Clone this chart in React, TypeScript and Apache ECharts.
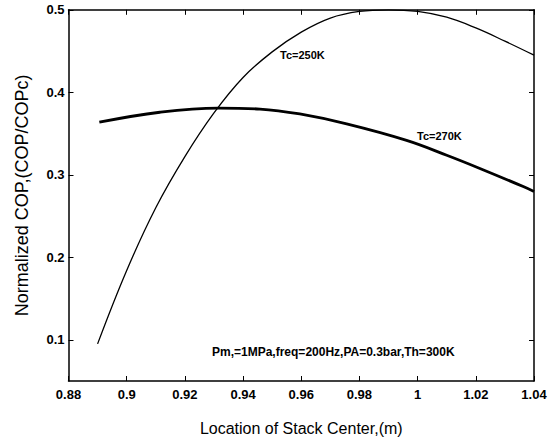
import React, { useEffect, useRef } from "react";
import * as echarts from "echarts";

// Location of stack center (m) and normalized COP
const tc250X = [0.89, 0.9, 0.91, 0.92, 0.93, 0.94, 0.95, 0.96, 0.97, 0.98, 0.99, 1.0, 1.01, 1.02, 1.03, 1.04];
const tc250Y = [0.095, 0.184, 0.26, 0.322, 0.375, 0.418, 0.449, 0.473, 0.49, 0.498, 0.5, 0.498, 0.491, 0.478, 0.462, 0.445];

const tc270X = [0.8906, 0.9114, 0.9315, 0.9458, 0.9595, 0.9756, 0.9962, 1.01, 1.0214, 1.0363, 1.04];
const tc270Y = [0.3637, 0.3758, 0.3809, 0.3797, 0.3737, 0.3617, 0.3417, 0.3237, 0.3077, 0.2857, 0.2797];

const yTickValues = [0.1, 0.2, 0.3, 0.4, 0.5];
const xMin = 0.88;
const xMax = 1.04;
const xInterval = 0.02;
const yMin = 0.05;
const yMax = 0.5;

const seriesNames = ["Tc=250K", "Tc=270K"];
const noteText = "Pm,=1MPa,freq=200Hz,PA=0.3bar,Th=300K";
const xTitle = "Location of Stack Center,(m)";
const yTitle = "Normalized COP,(COP/COPc)";

const zip = (xs: number[], ys: number[]) => xs.map((x, i) => [x, ys[i]]);

export default function App() {
  const ref = useRef<HTMLDivElement>(null);
  useEffect(() => {
    document.body.style.margin = "0";
    const chart = echarts.init(ref.current!, null, { renderer: "svg" });
    const tickFont = {
      fontFamily: "Liberation Sans, Arial, sans-serif",
      fontWeight: "bold" as const,
      fontSize: 13,
      color: "#000",
    };
    const axisLine = { show: true, lineStyle: { color: "#000", width: 1.5 } };
    chart.setOption({
      animation: false,
      backgroundColor: "#fff",
      grid: { left: 68.5, right: 22, top: 9.8, bottom: 54.3, containLabel: false },
      xAxis: [
        {
          type: "value",
          position: "bottom",
          min: xMin,
          max: xMax,
          interval: xInterval,
          axisLine,
          axisTick: { show: true, inside: true, length: 5, lineStyle: { color: "#000", width: 1 } },
          axisLabel: { ...tickFont, margin: 7, formatter: (v: number) => String(parseFloat(v.toFixed(2))) },
          splitLine: { show: false },
          name: xTitle,
          nameLocation: "middle",
          nameGap: 39,
          nameTextStyle: { fontFamily: "Liberation Sans, Arial, sans-serif", fontSize: 16, color: "#000" },
        },
        {
          type: "value",
          position: "top",
          min: xMin,
          max: xMax,
          interval: xInterval,
          axisLine,
          axisTick: { show: true, inside: true, length: 5, lineStyle: { color: "#000", width: 1 } },
          axisLabel: { show: false },
          splitLine: { show: false },
        },
      ],
      yAxis: [
        {
          type: "value",
          position: "left",
          min: yMin,
          max: yMax,
          axisLine,
          axisTick: { show: true, inside: true, length: 5, customValues: yTickValues, lineStyle: { color: "#000", width: 1 } },
          axisLabel: { ...tickFont, margin: 4, customValues: yTickValues, formatter: (v: number) => String(parseFloat(v.toFixed(2))) },
          splitLine: { show: false },
          name: yTitle,
          nameLocation: "middle",
          nameGap: 38,
          nameTextStyle: { fontFamily: "Liberation Sans, Arial, sans-serif", fontSize: 18, color: "#000" },
        },
        {
          type: "value",
          position: "right",
          min: yMin,
          max: yMax,
          axisLine,
          axisTick: { show: true, inside: true, length: 5, customValues: yTickValues, lineStyle: { color: "#000", width: 1 } },
          axisLabel: { show: false },
          splitLine: { show: false },
        },
      ],
      series: [
        {
          name: seriesNames[0],
          type: "line",
          xAxisIndex: 0,
          yAxisIndex: 0,
          data: zip(tc250X, tc250Y),
          smooth: 0.4,
          showSymbol: false,
          lineStyle: { color: "#000", width: 1.3 },
        },
        {
          name: seriesNames[1],
          type: "line",
          xAxisIndex: 0,
          yAxisIndex: 0,
          data: zip(tc270X, tc270Y),
          smooth: 0.4,
          showSymbol: false,
          lineStyle: { color: "#000", width: 2.8 },
        },
      ],
      graphic: [
        {
          type: "text",
          left: 280,
          top: 49,
          style: { text: seriesNames[0], font: "bold 11px 'Liberation Sans', Arial, sans-serif", fill: "#000" },
        },
        {
          type: "text",
          left: 417,
          top: 130,
          style: { text: seriesNames[1], font: "bold 11px 'Liberation Sans', Arial, sans-serif", fill: "#000" },
        },
        {
          type: "text",
          left: 212,
          top: 346,
          style: { text: noteText, font: "bold 12px 'Liberation Sans', Arial, sans-serif", fill: "#000" },
        },
      ],
    });
    return () => chart.dispose();
  }, []);
  return <div ref={ref} style={{ width: 556, height: 441 }} />;
}
